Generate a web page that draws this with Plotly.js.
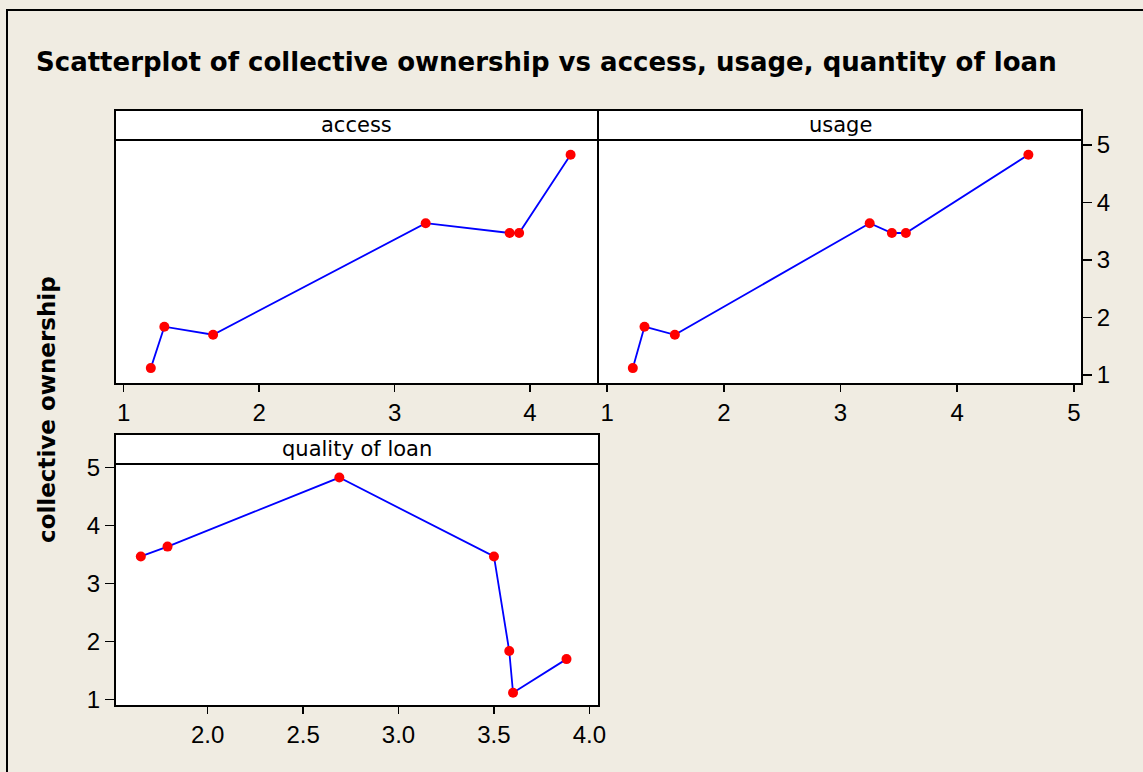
<!DOCTYPE html>
<html>
<head>
<meta charset="utf-8">
<script src="https://cdn.plot.ly/plotly-3.0.1.min.js"></script>
<style>html,body{margin:0;padding:0;background:#F0ECE2;}#chart{width:1143px;height:772px;}</style>
</head>
<body>
<div id="chart"></div>
<script>
// ---- data ----
var panelNames = ["access", "usage", "quality of loan"];
var accessX   = [1.20, 1.30, 1.66, 3.23, 3.85, 3.92, 4.30];
var accessY   = [1.12, 1.84, 1.70, 3.64, 3.47, 3.47, 4.83];
var usageX    = [1.22, 1.32, 1.58, 3.25, 3.44, 3.56, 4.61];
var usageY    = [1.12, 1.84, 1.70, 3.64, 3.47, 3.47, 4.83];
var qualityX  = [1.65, 1.79, 2.69, 3.50, 3.58, 3.60, 3.88];
var qualityY  = [3.47, 3.64, 4.83, 3.47, 1.84, 1.12, 1.70];
var accessTicks  = [1, 2, 3, 4];
var usageTicks   = [1, 2, 3, 4, 5];
var qualityTicks = [2.0, 2.5, 3.0, 3.5, 4.0];
var ownershipTicks = [1, 2, 3, 4, 5];
var titleText = "Scatterplot of collective ownership vs access, usage, quantity of loan";
var yTitleText = "collective ownership";

// ---- layout helpers ----
var W = 1143, H = 772;
function px(x){ return x / W; }
function py(y){ return 1 - y / H; }

var lineStyle = {color: "#0000FF", width: 1.8};
var markerStyle = {color: "#FF0000", size: 10};
function trace(x, y, xa, ya){
  return {x: x, y: y, xaxis: xa, yaxis: ya, type: "scatter", mode: "lines+markers",
          line: lineStyle, marker: markerStyle, hoverinfo: "x+y", showlegend: false};
}
var data = [
  trace(accessX, accessY, "x", "y"),
  trace(usageX, usageY, "x2", "y2"),
  trace(qualityX, qualityY, "x3", "y3")
];

var tickFont = {family: "Liberation Sans, Arial, sans-serif", size: 24, color: "#000"};
function xax(domain, range, tickvals, anchor, fmt){
  return {domain: domain, range: range, anchor: anchor, tickvals: tickvals,
          tickformat: fmt || "", ticks: "outside", ticklen: 7, tickwidth: 1.5, tickcolor: "#000",
          showline: true, mirror: true, linewidth: 2, linecolor: "#000",
          showgrid: false, zeroline: false, tickfont: tickFont, fixedrange: true};
}
function yax(domain, range, anchor, side, show){
  return {domain: domain, range: range, anchor: anchor, side: side,
          tickvals: show ? ownershipTicks : [], showticklabels: show,
          ticks: show ? "outside" : "", ticklen: 9, tickwidth: 1.5, tickcolor: "#000",
          showline: true, mirror: true, linewidth: 2, linecolor: "#000",
          showgrid: false, zeroline: false, tickfont: tickFont, fixedrange: true};
}

var topY = [py(383), py(140)];
var botY = [py(705), py(464)];
var headerFont = {family: "DejaVu Sans, sans-serif", size: 21, color: "#000"};

function header(x0, x1, y0, y1){
  return {type: "rect", xref: "paper", yref: "paper", x0: px(x0), x1: px(x1), y0: py(y1), y1: py(y0),
          fillcolor: "#FFFFFF", line: {color: "#000", width: 2}};
}
function headerLabel(text, x0, x1, y0, y1){
  return {text: text, xref: "paper", yref: "paper", x: px((x0 + x1) / 2), y: py((y0 + y1) / 2),
          xanchor: "center", yanchor: "middle", showarrow: false, font: headerFont};
}

var layout = {
  width: W, height: H,
  margin: {l: 0, r: 0, t: 0, b: 0},
  paper_bgcolor: "#F0ECE2",
  plot_bgcolor: "#FFFFFF",
  showlegend: false,
  title: {text: titleText, x: px(36), xanchor: "left", y: py(62), yanchor: "middle",
          font: {family: "DejaVu Sans, sans-serif", size: 26, color: "#000", weight: "bold"}},
  xaxis:  xax([px(116), px(597)], [0.943, 4.495], accessTicks, "y"),
  yaxis:  yax(topY, [0.861, 5.087], "x", "left", false),
  xaxis2: xax([px(599), px(1081)], [0.930, 5.061], usageTicks, "y2"),
  yaxis2: yax(topY, [0.861, 5.087], "x2", "right", true),
  xaxis3: xax([px(116), px(598)], [1.52, 4.045], qualityTicks, "y3", ".1f"),
  yaxis3: yax(botY, [0.909, 5.064], "x3", "left", true),
  shapes: [
    {type: "rect", xref: "paper", yref: "paper", x0: px(7), x1: px(1150), y0: py(790), y1: py(10),
     fillcolor: "rgba(0,0,0,0)", line: {color: "#000", width: 2}},
    header(115, 598, 110, 140),
    header(598, 1082, 110, 140),
    header(115, 599, 434, 464)
  ],
  annotations: [
    headerLabel(panelNames[0], 115, 598, 110, 140),
    headerLabel(panelNames[1], 598, 1082, 110, 140),
    headerLabel(panelNames[2], 115, 599, 434, 464),
    {text: "<b>" + yTitleText + "</b>", xref: "paper", yref: "paper", x: px(47), y: py(410),
     xanchor: "center", yanchor: "middle", textangle: -90, showarrow: false,
     font: {family: "DejaVu Sans, sans-serif", size: 23, color: "#000"}}
  ]
};

Plotly.newPlot("chart", data, layout, {displayModeBar: false, staticPlot: true});
</script>
</body>
</html>
